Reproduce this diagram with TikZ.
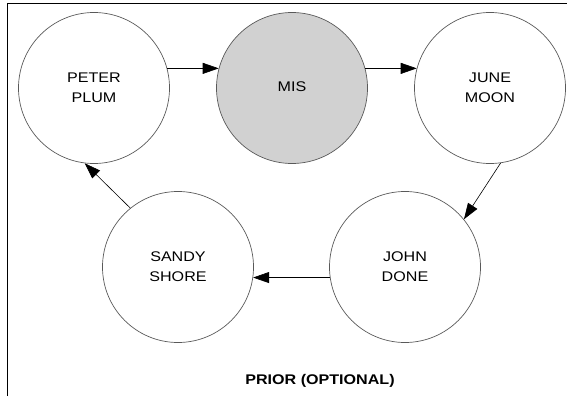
\documentclass[tikz,border=0pt]{standalone}
\usepackage{fontspec}
\setmainfont{Liberation Sans}
\usetikzlibrary{arrows.meta}
\newcommand{\wtext}[1]{\scalebox{1.15}[1]{\begin{tabular}{@{}c@{}}#1\end{tabular}}}
\begin{document}
\begin{tikzpicture}[x=1pt,y=-1pt,
  person/.style={circle, draw=black!65, line width=0.7pt, minimum size=151pt, inner sep=0pt,
    font=\fontsize{14}{20}\selectfont},
  flow/.style={draw=black, line width=0.6pt, -{Triangle[length=16pt,width=11pt]}}]
\useasboundingbox (0,0) rectangle (567,396);
\draw[line width=0.8pt] (7,396) -- (7,3) -- (567,3);
\node[person] (peter) at (94,88) {\wtext{PETER\\PLUM}};
\node[person, fill=black!18] (mis) at (292,88) {\wtext{MIS}};
\node[person] (june) at (490,88) {\wtext{JUNE\\MOON}};
\node[person] (sandy) at (178,267) {\wtext{SANDY\\SHORE}};
\node[person] (john) at (405,267) {\wtext{JOHN\\DONE}};
\draw[flow] (peter.15) -- (mis.165);
\draw[flow] (mis.15) -- (june.165);
\draw[flow] (june.-82) -- (john.39);
\draw[flow] (john.188) -- (sandy.-8);
\draw[flow] (sandy.129) -- (peter.263);
\node[anchor=base, font=\fontsize{14}{17}\selectfont\bfseries] (label) at (320,384) {\scalebox{1.15}[1]{PRIOR (OPTIONAL)}};
\end{tikzpicture}
\end{document}
